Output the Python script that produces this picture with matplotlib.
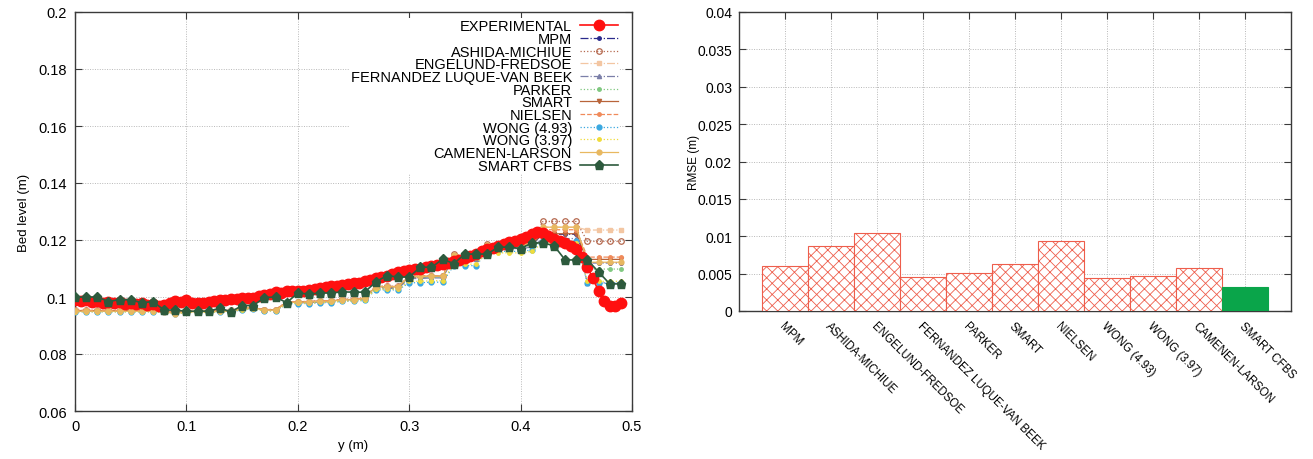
import matplotlib
matplotlib.use("Agg")
import matplotlib.pyplot as plt
from matplotlib.ticker import FuncFormatter, MultipleLocator

plt.rcParams['font.family'] = ['Liberation Sans', 'DejaVu Sans']
plt.rcParams['hatch.linewidth'] = 0.6
plt.rcParams['hatch.color'] = '#f27a68'

# ---------------- data: bed level profiles ----------------
y_exp = [0.000, 0.005, 0.010, 0.015, 0.020, 0.025, 0.030, 0.035, 0.040, 0.045,
         0.050, 0.055, 0.060, 0.065, 0.070, 0.075, 0.080, 0.085, 0.090, 0.095,
         0.100, 0.105, 0.110, 0.115, 0.120, 0.125, 0.130, 0.135, 0.140, 0.145,
         0.150, 0.155, 0.160, 0.165, 0.170, 0.175, 0.180, 0.185, 0.190, 0.195,
         0.200, 0.205, 0.210, 0.215, 0.220, 0.225, 0.230, 0.235, 0.240, 0.245,
         0.250, 0.255, 0.260, 0.265, 0.270, 0.275, 0.280, 0.285, 0.290, 0.295,
         0.300, 0.305, 0.310, 0.315, 0.320, 0.325, 0.330, 0.335, 0.340, 0.345,
         0.350, 0.355, 0.360, 0.365, 0.370, 0.375, 0.380, 0.385, 0.390, 0.395,
         0.400, 0.405, 0.410, 0.415, 0.420, 0.425, 0.430, 0.435, 0.440, 0.445,
         0.450, 0.455, 0.460, 0.465, 0.470, 0.475, 0.480, 0.485, 0.490]
z_exp = [0.0990, 0.0985, 0.0988, 0.0982, 0.0986, 0.0980, 0.0984, 0.0978, 0.0982, 0.0976,
         0.0980, 0.0975, 0.0978, 0.0972, 0.0975, 0.0968, 0.0972, 0.0980, 0.0986, 0.0984,
         0.0988, 0.0978, 0.0980, 0.0978, 0.0983, 0.0985, 0.0988, 0.0990, 0.0993, 0.0992,
         0.0996, 0.0995, 0.0998, 0.1005, 0.1008, 0.1012, 0.1018, 0.1015, 0.1020, 0.1022,
         0.1022, 0.1020, 0.1025, 0.1028, 0.1032, 0.1035, 0.1038, 0.1040, 0.1043, 0.1045,
         0.1048, 0.1050, 0.1055, 0.1060, 0.1065, 0.1070, 0.1075, 0.1080, 0.1086, 0.1090,
         0.1093, 0.1097, 0.1100, 0.1104, 0.1108, 0.1112, 0.1116, 0.1120, 0.1125, 0.1130,
         0.1138, 0.1145, 0.1152, 0.1160, 0.1167, 0.1172, 0.1178, 0.1185, 0.1192, 0.1198,
         0.1205, 0.1210, 0.1222, 0.1228, 0.1226, 0.1215, 0.1205, 0.1198, 0.1190, 0.1180,
         0.1168, 0.1140, 0.1105, 0.1065, 0.1020, 0.0985, 0.0970, 0.0968, 0.0978]

y_mod = [0.00, 0.01, 0.02, 0.03, 0.04, 0.05, 0.06, 0.07, 0.08, 0.09,
         0.10, 0.11, 0.12, 0.13, 0.14, 0.15, 0.16, 0.17, 0.18, 0.19,
         0.20, 0.21, 0.22, 0.23, 0.24, 0.25, 0.26, 0.27, 0.28, 0.29,
         0.30, 0.31, 0.32, 0.33, 0.34, 0.35, 0.36, 0.37, 0.38, 0.39,
         0.40, 0.41, 0.42, 0.43, 0.44, 0.45, 0.46, 0.47, 0.48, 0.49]

z_mpm = [0.0952, 0.0952, 0.0952, 0.0952, 0.0952, 0.0952, 0.0952, 0.0952, 0.0950, 0.0945,
         0.0950, 0.0950, 0.0950, 0.0952, 0.0952, 0.0960, 0.0962, 0.0955, 0.0955, 0.0980,
         0.0982, 0.0982, 0.0985, 0.0985, 0.0990, 0.0990, 0.0995, 0.1035, 0.1035, 0.1035,
         0.1070, 0.1070, 0.1072, 0.1072, 0.1145, 0.1140, 0.1140, 0.1180, 0.1180, 0.1180,
         0.1180, 0.1185, 0.1220, 0.1220, 0.1220, 0.1220, 0.1120, 0.1120, 0.1120, 0.1120]
z_ashida = [0.0953, 0.0953, 0.0953, 0.0953, 0.0953, 0.0953, 0.0953, 0.0953, 0.0951, 0.0946,
            0.0951, 0.0951, 0.0951, 0.0953, 0.0953, 0.0962, 0.0964, 0.0956, 0.0956, 0.0982,
            0.0984, 0.0984, 0.0987, 0.0987, 0.0992, 0.0992, 0.0997, 0.1038, 0.1038, 0.1038,
            0.1074, 0.1074, 0.1075, 0.1075, 0.1150, 0.1146, 0.1146, 0.1186, 0.1186, 0.1186,
            0.1186, 0.1190, 0.1265, 0.1265, 0.1265, 0.1265, 0.1195, 0.1195, 0.1195, 0.1195]
z_engelund = [0.0953, 0.0953, 0.0953, 0.0953, 0.0953, 0.0953, 0.0953, 0.0953, 0.0951, 0.0946,
              0.0951, 0.0951, 0.0951, 0.0953, 0.0953, 0.0962, 0.0964, 0.0956, 0.0956, 0.0982,
              0.0984, 0.0984, 0.0987, 0.0987, 0.0992, 0.0992, 0.0997, 0.1037, 0.1037, 0.1037,
              0.1073, 0.1073, 0.1074, 0.1074, 0.1148, 0.1144, 0.1144, 0.1184, 0.1184, 0.1184,
              0.1184, 0.1188, 0.1245, 0.1245, 0.1245, 0.1245, 0.1235, 0.1235, 0.1235, 0.1235]
z_fernandez = [0.0950, 0.0950, 0.0950, 0.0950, 0.0950, 0.0950, 0.0950, 0.0950, 0.0948, 0.0943,
               0.0948, 0.0948, 0.0948, 0.0950, 0.0950, 0.0957, 0.0960, 0.0953, 0.0953, 0.0978,
               0.0980, 0.0980, 0.0983, 0.0983, 0.0988, 0.0988, 0.0992, 0.1030, 0.1030, 0.1030,
               0.1065, 0.1065, 0.1067, 0.1067, 0.1138, 0.1134, 0.1134, 0.1170, 0.1170, 0.1170,
               0.1170, 0.1175, 0.1205, 0.1205, 0.1205, 0.1205, 0.1050, 0.1050, 0.1050, 0.1050]
z_parker = [0.0951, 0.0951, 0.0951, 0.0951, 0.0951, 0.0951, 0.0951, 0.0951, 0.0949, 0.0944,
            0.0949, 0.0949, 0.0949, 0.0951, 0.0951, 0.0958, 0.0961, 0.0954, 0.0954, 0.0979,
            0.0981, 0.0981, 0.0984, 0.0984, 0.0989, 0.0989, 0.0993, 0.1032, 0.1032, 0.1032,
            0.1068, 0.1068, 0.1070, 0.1070, 0.1142, 0.1138, 0.1138, 0.1176, 0.1176, 0.1176,
            0.1176, 0.1180, 0.1195, 0.1195, 0.1195, 0.1195, 0.1098, 0.1098, 0.1098, 0.1098]
z_smart = [0.0952, 0.0952, 0.0952, 0.0952, 0.0952, 0.0952, 0.0952, 0.0952, 0.0950, 0.0945,
           0.0950, 0.0950, 0.0950, 0.0952, 0.0952, 0.0961, 0.0963, 0.0955, 0.0955, 0.0981,
           0.0983, 0.0983, 0.0986, 0.0986, 0.0991, 0.0991, 0.0996, 0.1036, 0.1036, 0.1036,
           0.1071, 0.1071, 0.1073, 0.1073, 0.1146, 0.1142, 0.1142, 0.1182, 0.1182, 0.1182,
           0.1182, 0.1186, 0.1222, 0.1222, 0.1222, 0.1222, 0.1132, 0.1132, 0.1132, 0.1132]
z_nielsen = [0.0953, 0.0953, 0.0953, 0.0953, 0.0953, 0.0953, 0.0953, 0.0953, 0.0951, 0.0946,
             0.0951, 0.0951, 0.0951, 0.0953, 0.0953, 0.0962, 0.0964, 0.0956, 0.0956, 0.0982,
             0.0984, 0.0984, 0.0987, 0.0987, 0.0992, 0.0992, 0.0997, 0.1037, 0.1037, 0.1037,
             0.1073, 0.1073, 0.1074, 0.1074, 0.1148, 0.1144, 0.1144, 0.1184, 0.1184, 0.1184,
             0.1184, 0.1188, 0.1236, 0.1236, 0.1236, 0.1236, 0.1140, 0.1140, 0.1140, 0.1140]
z_wong493 = [0.0948, 0.0948, 0.0948, 0.0948, 0.0948, 0.0948, 0.0948, 0.0948, 0.0946, 0.0941,
             0.0946, 0.0946, 0.0946, 0.0948, 0.0948, 0.0955, 0.0958, 0.0951, 0.0951, 0.0975,
             0.0977, 0.0977, 0.0980, 0.0980, 0.0985, 0.0985, 0.0988, 0.1025, 0.1025, 0.1025,
             0.1050, 0.1050, 0.1052, 0.1052, 0.1110, 0.1110, 0.1110, 0.1160, 0.1160, 0.1160,
             0.1160, 0.1165, 0.1195, 0.1195, 0.1195, 0.1195, 0.1048, 0.1048, 0.1048, 0.1048]
z_wong397 = [0.0948, 0.0948, 0.0948, 0.0948, 0.0948, 0.0948, 0.0948, 0.0948, 0.0946, 0.0940,
             0.0946, 0.0946, 0.0946, 0.0948, 0.0948, 0.0956, 0.0958, 0.0951, 0.0951, 0.0976,
             0.0978, 0.0978, 0.0981, 0.0981, 0.0986, 0.0986, 0.0989, 0.1027, 0.1027, 0.1027,
             0.1055, 0.1055, 0.1057, 0.1057, 0.1115, 0.1115, 0.1115, 0.1155, 0.1155, 0.1155,
             0.1155, 0.1160, 0.1190, 0.1190, 0.1190, 0.1190, 0.1055, 0.1055, 0.1055, 0.1055]
z_camenen = [0.0950, 0.0950, 0.0950, 0.0950, 0.0950, 0.0950, 0.0950, 0.0950, 0.0948, 0.0942,
             0.0948, 0.0948, 0.0948, 0.0950, 0.0950, 0.0960, 0.0962, 0.0954, 0.0954, 0.0980,
             0.0982, 0.0982, 0.0985, 0.0985, 0.0990, 0.0990, 0.0995, 0.1036, 0.1036, 0.1036,
             0.1072, 0.1072, 0.1073, 0.1073, 0.1147, 0.1143, 0.1143, 0.1183, 0.1183, 0.1183,
             0.1183, 0.1187, 0.1245, 0.1245, 0.1245, 0.1245, 0.1122, 0.1122, 0.1122, 0.1122]
z_cfbs = [0.0999, 0.1000, 0.1000, 0.0984, 0.0991, 0.0990, 0.0980, 0.0984, 0.0954, 0.0954,
          0.0950, 0.0950, 0.0950, 0.0961, 0.0948, 0.0970, 0.0970, 0.0998, 0.1000, 0.0980,
          0.1014, 0.1010, 0.1014, 0.1014, 0.1018, 0.1017, 0.1017, 0.1053, 0.1075, 0.1070,
          0.1070, 0.1105, 0.1104, 0.1133, 0.1117, 0.1151, 0.1150, 0.1151, 0.1175, 0.1175,
          0.1170, 0.1189, 0.1190, 0.1180, 0.1130, 0.1130, 0.1130, 0.1088, 0.1046, 0.1046]

# ---------------- data: RMSE ----------------
methods = ["MPM", "ASHIDA-MICHIUE", "ENGELUND-FREDSOE", "FERNANDEZ LUQUE-VAN BEEK",
           "PARKER", "SMART", "NIELSEN", "WONG (4.93)", "WONG (3.97)",
           "CAMENEN-LARSON", "SMART CFBS"]
rmse = [0.0060, 0.0087, 0.0105, 0.0045, 0.0051, 0.0063, 0.0093, 0.0044, 0.0047,
        0.0057, 0.0032]

# ---------------- figure ----------------
fig = plt.figure(figsize=(13.13, 4.60), dpi=100)
ax1 = fig.add_axes([75/1313, 1-412/460, (632-75)/1313, (412-13)/460])
ax2 = fig.add_axes([739/1313, 1-312/460, (1291-739)/1313, (312-13)/460])

spine_col = '#3a3a3a'
grid_kw = dict(color='#b8b8b8', linestyle=(0, (1, 1.5)), linewidth=0.7)

models = [
    ("MPM", z_mpm, dict(color='#2a2a8c', ls='-.', marker='o', ms=2.5)),
    ("ASHIDA-MICHIUE", z_ashida, dict(color='#b5694f', ls=':', marker='o', ms=4, mfc='none', mew=0.9)),
    ("ENGELUND-FREDSOE", z_engelund, dict(color='#f3c6a2', ls='-.', marker='s', ms=2.5)),
    ("FERNANDEZ LUQUE-VAN BEEK", z_fernandez, dict(color='#7b7fa8', ls='-.', marker='^', ms=3)),
    ("PARKER", z_parker, dict(color='#80c880', ls=':', marker='o', ms=2.5)),
    ("SMART", z_smart, dict(color='#b8643a', ls='-', marker='v', ms=3)),
    ("NIELSEN", z_nielsen, dict(color='#f08a5a', ls='--', marker='o', ms=2.5)),
    ("WONG (4.93)", z_wong493, dict(color='#3aa8e0', ls=':', marker='o', ms=3.5)),
    ("WONG (3.97)", z_wong397, dict(color='#f0dc3c', ls=':', marker='o', ms=2.5)),
    ("CAMENEN-LARSON", z_camenen, dict(color='#e8b860', ls='-', marker='o', ms=3.5)),
]

handles = []
h = ax1.plot(y_exp, z_exp, color='#ff1010', lw=1.2, marker='o', ms=7.5,
             mfc='#ff1010', mec='#ff1010', zorder=5, label='EXPERIMENTAL')[0]
handles.append(h)
for name, z, kw in models:
    hh = ax1.plot(y_mod, z, lw=0.9, zorder=3, label=name, **kw)[0]
    handles.append(hh)
h = ax1.plot(y_mod, z_cfbs, color='#2d5a3d', lw=1.2, marker='p', ms=6.5,
             zorder=6, label='SMART CFBS')[0]
handles.append(h)

ax1.set_xlim(0, 0.5)
ax1.set_ylim(0.06, 0.2)
ax1.xaxis.set_major_locator(MultipleLocator(0.1))
ax1.yaxis.set_major_locator(MultipleLocator(0.02))
fmt = FuncFormatter(lambda v, p: '%g' % round(v, 4))
ax1.xaxis.set_major_formatter(fmt)
ax1.yaxis.set_major_formatter(fmt)
ax1.grid(True, **grid_kw)
ax1.set_axisbelow(True)
ax1.set_xlabel('y (m)', fontsize=9.5, labelpad=4)
ax1.set_ylabel('Bed level (m)', fontsize=9.5, labelpad=6)

leg = ax1.legend(handles=handles, loc='upper right', bbox_to_anchor=(0.99, 1.003),
                 markerfirst=False, fontsize=10.5, labelspacing=-0.09,
                 handlelength=2.6, handletextpad=0.55, borderpad=0.08,
                 frameon=True, fancybox=False, framealpha=1.0,
                 facecolor='white', edgecolor='none')
leg.set_zorder(1.5)

# ---------------- bars ----------------
xpos = list(range(len(methods)))
for i, (m, v) in enumerate(zip(methods, rmse)):
    if m == "SMART CFBS":
        ax2.bar(i, v, width=1.0, color='#0aa54a', edgecolor='#0aa54a', lw=0.8, zorder=3)
    else:
        ax2.bar(i, v, width=1.0, facecolor='white', edgecolor='#ee5e4c',
                hatch='xxx', lw=0.8, zorder=3)

ax2.set_xlim(-1, 11)
ax2.set_ylim(0, 0.04)
ax2.yaxis.set_major_locator(MultipleLocator(0.005))
ax2.yaxis.set_major_formatter(fmt)
ax2.set_xticks(xpos)
ax2.set_xticklabels(methods, rotation=-45, ha='left', va='top',
                    rotation_mode='anchor', fontsize=8.3)
ax2.grid(True, **grid_kw)
ax2.set_axisbelow(True)
ax2.set_ylabel('RMSE (m)', fontsize=8.5, labelpad=-2)

for ax in (ax1, ax2):
    for s in ax.spines.values():
        s.set_color(spine_col)
        s.set_linewidth(1.0)
        s.set_zorder(2.6)
    ax.tick_params(direction='in', top=True, right=True, length=5, width=0.8,
                   color=spine_col, labelsize=10.5, pad=6)
ax2.tick_params(axis='y', labelsize=10, pad=5)
ax2.tick_params(axis='x', labelsize=8.3, pad=6)

fig.savefig('out.png', dpi=100)
